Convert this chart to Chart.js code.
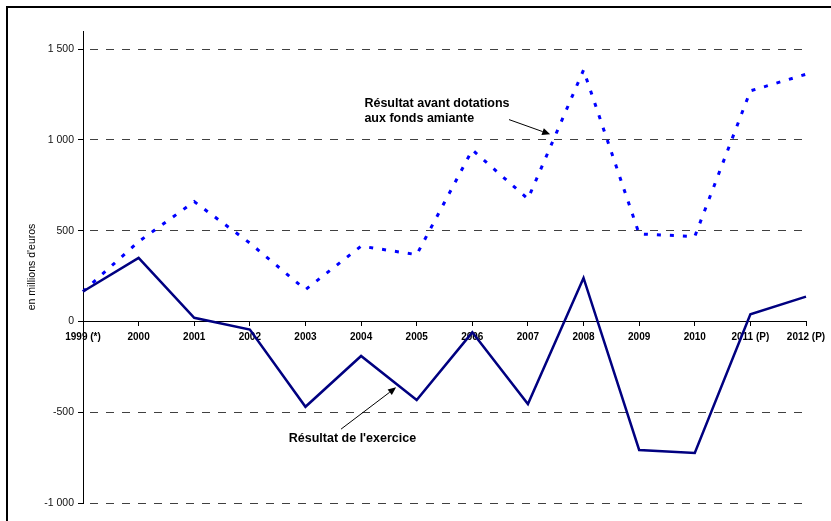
<!DOCTYPE html>
<html>
<head>
<meta charset="utf-8">
<script src="https://cdn.jsdelivr.net/npm/chart.js@4/dist/chart.umd.min.js"></script>
<style>
  html, body { margin: 0; padding: 0; background: #fff; }
  canvas { display: block; }
</style>
</head>
<body>
<canvas id="chart" width="831" height="521"></canvas>
<script>
// Années (P = prévisions)
const categories = ['1999 (*)', '2000', '2001', '2002', '2003', '2004', '2005',
  '2006', '2007', '2008', '2009', '2010', '2011 (P)', '2012 (P)'];

// Résultat de l'exercice, en millions d'euros
const resultatExercice = [165, 350, 20, -45, -470, -190, -433, -60, -455, 240, -708, -725, 40, 137];

// Résultat avant dotations aux fonds amiante, en millions d'euros
const resultatAvantDotations = [165, 440, 660, 432, 175, 415, 368, 945, 675, 1385, 482, 468, 1270, 1362];

// Graduations de l'axe vertical
const yTickValues = [-1000, -500, 0, 500, 1000, 1500];

// Libellés fléchés, placés en coordonnées du graphique (indice d'année, valeur)
const notes = [
  { lines: ['Résultat avant dotations', 'aux fonds amiante'], at: [5.06, 1181],
    arrowFrom: [7.66, 1112], arrowTo: [8.40, 1031] },
  { lines: ["Résultat de l'exercice"], at: [3.70, -663],
    arrowFrom: [4.64, -593], arrowTo: [5.63, -363] }
];

Chart.defaults.font.family = "'Liberation Sans', Arial, Helvetica, sans-serif";

function formatFr(v) {
  const s = Math.abs(v).toString().replace(/\B(?=(\d{3})+(?!\d))/g, ' ');
  return (v < 0 ? '-' : '') + s;
}

function zeroPadding(s) {
  s.paddingLeft = 0; s.paddingRight = 0; s.paddingTop = 0; s.paddingBottom = 0;
}

// Cadre, libellés et flèches
const decor = {
  id: 'decor',
  beforeDraw(chart) {
    const ctx = chart.ctx;
    ctx.save();
    ctx.fillStyle = '#000';
    ctx.fillRect(6, 6, chart.width - 6, 2);
    ctx.fillRect(6, 6, 2, chart.height - 6);
    ctx.restore();
  },
  afterDatasetsDraw(chart) {
    const ctx = chart.ctx;
    const xs = chart.scales.x, ys = chart.scales.y;
    const px = p => [xs.getPixelForValue(p[0]), ys.getPixelForValue(p[1])];
    ctx.save();
    ctx.fillStyle = '#000';
    ctx.strokeStyle = '#000';
    ctx.font = "bold 12.5px 'Liberation Sans', Arial, sans-serif";
    ctx.textAlign = 'left';
    ctx.textBaseline = 'alphabetic';
    notes.forEach(n => {
      const [tx, ty] = px(n.at);
      n.lines.forEach((line, i) => ctx.fillText(line, tx, ty + i * 15));
      const [x1, y1] = px(n.arrowFrom);
      const [x2, y2] = px(n.arrowTo);
      const ang = Math.atan2(y2 - y1, x2 - x1);
      const head = 8, half = 3.5;
      const bx = x2 - head * Math.cos(ang), by = y2 - head * Math.sin(ang);
      ctx.lineWidth = 1;
      ctx.beginPath();
      ctx.moveTo(x1, y1);
      ctx.lineTo(bx, by);
      ctx.stroke();
      ctx.beginPath();
      ctx.moveTo(x2, y2);
      ctx.lineTo(bx + half * Math.sin(ang), by - half * Math.cos(ang));
      ctx.lineTo(bx - half * Math.sin(ang), by + half * Math.cos(ang));
      ctx.closePath();
      ctx.fill();
    });
    ctx.restore();
  }
};

new Chart(document.getElementById('chart'), {
  type: 'line',
  data: {
    labels: categories,
    datasets: [
      {
        label: "Résultat de l'exercice",
        data: resultatExercice,
        borderColor: '#000080',
        borderWidth: 2.5,
        pointRadius: 0,
        tension: 0,
        fill: false
      },
      {
        label: 'Résultat avant dotations aux fonds amiante',
        data: resultatAvantDotations,
        borderColor: '#0000ff',
        borderWidth: 3,
        borderDash: [4, 9],
        pointRadius: 0,
        tension: 0,
        fill: false
      }
    ]
  },
  options: {
    responsive: false,
    devicePixelRatio: 1,
    animation: false,
    layout: { padding: { left: 7, top: 31, right: 25, bottom: 18 } },
    plugins: { legend: { display: false }, tooltip: { enabled: false } },
    scales: {
      x: {
        type: 'category',
        position: { y: 0 },
        offset: false,
        grid: { display: true, drawOnChartArea: false, drawTicks: true, tickLength: 4,
                tickColor: '#000', offset: false },
        border: { display: true, color: '#000', width: 1 },
        ticks: { autoSkip: false, maxRotation: 0, minRotation: 0, padding: 6, color: '#000',
                 font: { size: 10, weight: 'bold' } },
        afterFit: zeroPadding
      },
      y: {
        min: -1000,
        max: 1600,
        afterBuildTicks(s) { s.ticks = yTickValues.map(v => ({ value: v })); },
        afterFit(s) { s.width = 76; zeroPadding(s); },
        grid: {
          color: c => (c.tick && c.tick.value === 0) ? 'rgba(0,0,0,0)' : '#404040',
          lineWidth: 1, drawTicks: true, tickLength: 5, tickColor: '#000'
        },
        border: { display: true, color: '#000', width: 1, dash: [8, 8], dashOffset: 10 },
        ticks: { padding: 4, color: '#111', font: { size: 10.5 }, callback: v => formatFr(v) },
        title: { display: true, text: "en millions d'euros", color: '#000',
                 font: { size: 10.5 }, padding: { top: 19, bottom: 0 } }
      }
    }
  },
  plugins: [decor]
});
</script>
</body>
</html>
